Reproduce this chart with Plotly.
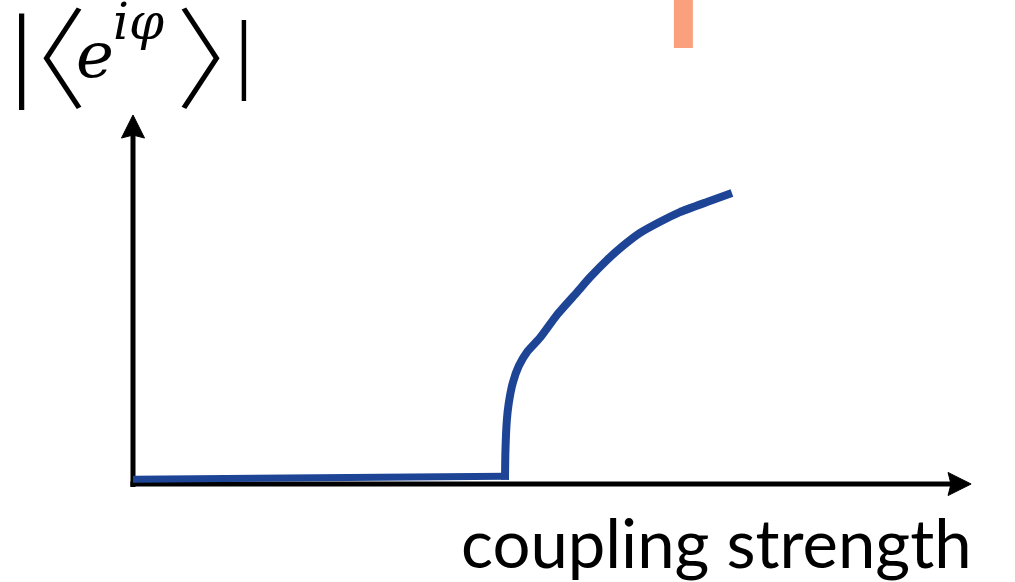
import plotly.graph_objects as go

# Order parameter |<e^{i phi}>| versus coupling strength K (critical coupling at K = 1)
k_flat = [0.0, 1.0]
r_flat = [0.013, 0.021]

k_sync = [1.000, 1.001, 1.005, 1.010, 1.021, 1.037, 1.061, 1.094, 1.140, 1.194,
          1.228, 1.274, 1.317, 1.363, 1.417, 1.470, 1.543, 1.610]
r_sync = [0.011, 0.083, 0.172, 0.217, 0.272, 0.317, 0.357, 0.393, 0.455, 0.516,
          0.555, 0.602, 0.640, 0.675, 0.705, 0.731, 0.758, 0.782]

# axis extents (arrow tails and tips), in data units
x_axis_start, x_axis_end = -0.007, 2.253
y_axis_start, y_axis_end = -0.008, 0.992

# arrowhead geometry (data units; both axes use the same scale)
head_len = 0.062
head_half = 0.031
head_notch = 0.008

blue = "#1e4595"
px_per_unit = 372
x0_px, y0_px = 133, 484
W, H = 1015, 582

fig = go.Figure()

# axes: shafts
fig.add_trace(go.Scatter(x=[x_axis_start, x_axis_end - head_len + head_notch], y=[0, 0],
                         mode="lines", line=dict(color="black", width=5), hoverinfo="skip"))
fig.add_trace(go.Scatter(x=[0, 0], y=[y_axis_start, y_axis_end - head_len + head_notch],
                         mode="lines", line=dict(color="black", width=5), hoverinfo="skip"))
# axes: arrowheads
xb = x_axis_end - head_len
fig.add_trace(go.Scatter(x=[x_axis_end, xb, xb + head_notch, xb, x_axis_end],
                         y=[0, head_half, 0, -head_half, 0],
                         mode="lines", fill="toself", fillcolor="black",
                         line=dict(color="black", width=1), hoverinfo="skip"))
yb = y_axis_end - head_len
fig.add_trace(go.Scatter(x=[0, head_half, 0, -head_half, 0],
                         y=[y_axis_end, yb, yb + head_notch, yb, y_axis_end],
                         mode="lines", fill="toself", fillcolor="black",
                         line=dict(color="black", width=1), hoverinfo="skip"))

# order parameter curve
fig.add_trace(go.Scatter(x=k_flat, y=r_flat, mode="lines",
                         line=dict(color=blue, width=7), hoverinfo="skip"))
fig.add_trace(go.Scatter(x=k_sync, y=r_sync, mode="lines",
                         line=dict(color=blue, width=8, shape="spline", smoothing=0.5),
                         hoverinfo="skip"))


def px(xp):
    return xp / W


def py(yp):
    return 1 - yp / H


annotations = [
    # x label
    dict(x=px(974), y=py(582), xref="paper", yref="paper", xanchor="right", yanchor="bottom",
         yshift=-2, text="coupling strength", showarrow=False,
         font=dict(family="Lato", size=67, color="black")),
    # y label: |<e^{i phi}>|
    dict(x=px(21.5), y=py(51), xref="paper", yref="paper", xanchor="center",
         yanchor="middle", text="|", showarrow=False,
         font=dict(family="Liberation Serif", size=106, color="black")),
    dict(x=px(32), y=py(52), xref="paper", yref="paper", xanchor="center",
         yanchor="middle", text="〈", showarrow=False,
         font=dict(family="Noto Sans CJK JP", size=110, weight=300, color="black")),
    dict(x=px(74), y=py(55), xref="paper", yref="paper", xanchor="left",
         yanchor="middle", text="<i>e</i>", showarrow=False,
         font=dict(family="DejaVu Serif", size=64, color="black")),
    dict(x=px(111), y=py(22), xref="paper", yref="paper", xanchor="left",
         yanchor="middle", text="<i>iφ</i>", showarrow=False,
         font=dict(family="DejaVu Serif", size=50, color="black")),
    dict(x=px(231), y=py(52), xref="paper", yref="paper", xanchor="center",
         yanchor="middle", text="〉", showarrow=False,
         font=dict(family="Noto Sans CJK JP", size=110, weight=300, color="black")),
    dict(x=px(244), y=py(52), xref="paper", yref="paper", xanchor="center",
         yanchor="middle", text="|", showarrow=False,
         font=dict(family="Liberation Serif", size=89, color="black")),
]

# salmon block at the top edge
shapes = [dict(type="rect", xref="x", yref="y", x0=1.454, x1=1.505, y0=1.172, y1=1.35,
               fillcolor="rgb(250,160,124)", line=dict(width=0), layer="below")]

fig.update_layout(
    width=W, height=H,
    margin=dict(l=0, r=0, t=0, b=0),
    paper_bgcolor="white", plot_bgcolor="white",
    showlegend=False,
    xaxis=dict(range=[-x0_px / px_per_unit, (W - x0_px) / px_per_unit],
               visible=False, fixedrange=True),
    yaxis=dict(range=[(y0_px - H) / px_per_unit, y0_px / px_per_unit],
               visible=False, fixedrange=True),
    annotations=annotations,
    shapes=shapes,
)

fig.write_html("out.html")
